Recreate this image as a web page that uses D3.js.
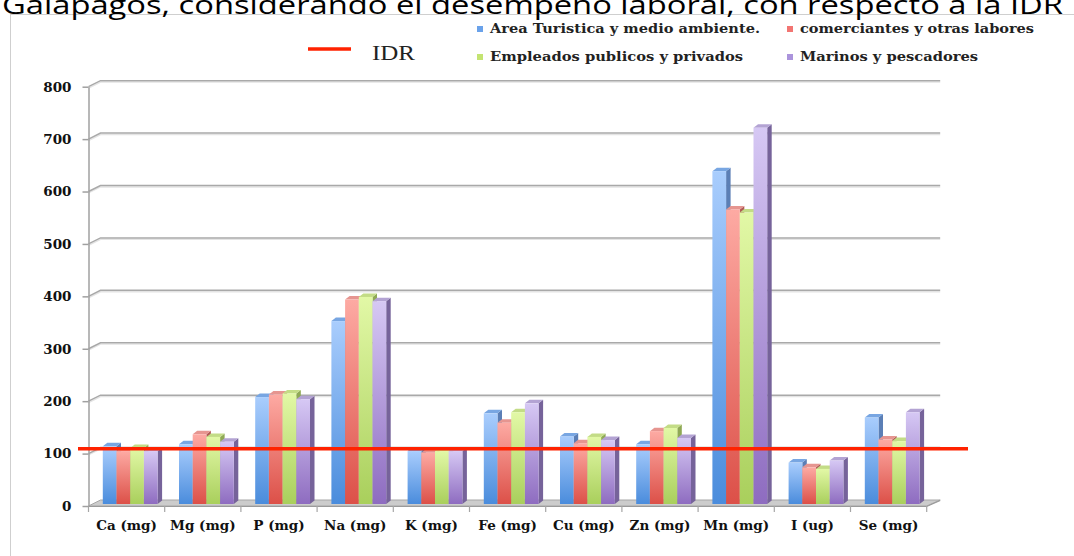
<!DOCTYPE html>
<html>
<head>
<meta charset="utf-8">
<script src="https://cdn.jsdelivr.net/npm/d3@7"></script>
<style>
  html, body { margin: 0; padding: 0; background: #ffffff; overflow: hidden; }
  svg { display: block; }
</style>
</head>
<body>
<svg id="chart" width="1074" height="556"></svg>
<script>
// Nutrient categories on the x axis
const categories = ["Ca (mg)", "Mg (mg)", "P (mg)", "Na (mg)", "K (mg)", "Fe (mg)", "Cu (mg)", "Zn (mg)", "Mn (mg)", "I (ug)", "Se (mg)"];

// Occupational groups (series)
const seriesNames = ["Area Turistica y medio ambiente.", "comerciantes y otras labores", "Empleados publicos y privados", "Marinos y pescadores"];

// Intake per group, one value per nutrient
const turismo      = [110, 114, 204, 349, 101, 173, 129, 114, 635, 79, 165];
const comerciantes = [101, 133, 209, 390,  98, 155, 116, 139, 562, 70, 123];
const empleados    = [107, 128, 211, 395, 101, 175, 128, 145, 556, 67, 120];
const marinos      = [101, 119, 200, 387, 101, 192, 122, 126, 718, 83, 175];

// Reference intake level (IDR)
const idr = 109;

// Y axis ticks
const yTicks = [0, 100, 200, 300, 400, 500, 600, 700, 800];

const titleText = "Galapagos, considerando el desempeño laboral, con respecto a la IDR";

const seriesValues = [turismo, comerciantes, empleados, marinos];

// Colours: [light top, dark bottom, side, top face, legend]
const palette = [
  { light: "#a9cdfd", dark: "#4a8cdc", side: "#5b7fb6", top: "#78a6e2", key: "#6aa2ea" },
  { light: "#fdaaa3", dark: "#dc5048", side: "#b05a55", top: "#e69590", key: "#f27572" },
  { light: "#e2f8a6", dark: "#a9cf5c", side: "#8fa955", top: "#c3dc86", key: "#c4e472" },
  { light: "#d6c8f4", dark: "#8e6cc0", side: "#76639a", top: "#b3a3d3", key: "#ab94dc" }
];

const svg = d3.select("#chart");
const defs = svg.append("defs");

palette.forEach((p, i) => {
  const g = defs.append("linearGradient")
    .attr("id", "grad" + i)
    .attr("x1", 0).attr("y1", 0).attr("x2", 0).attr("y2", 1);
  g.append("stop").attr("offset", "0%").attr("stop-color", p.light);
  g.append("stop").attr("offset", "100%").attr("stop-color", p.dark);
});

const blur = defs.append("filter").attr("id", "soft")
  .attr("x", "-5%").attr("y", "-200%").attr("width", "110%").attr("height", "500%");
blur.append("feGaussianBlur").attr("stdDeviation", 1.6);

// Layout
const depthX = 12, depthY = -6;        // wall/floor depth
const barDX = 4.5, barDY = -3.5;       // bar depth
const faceDY = -2;                     // bar face sits slightly behind the front plane

const x = d3.scaleBand().domain(categories).range([88.5, 926.7]);
const xs = d3.scaleBand().domain(d3.range(seriesNames.length)).range([14.3, 69.1]);
const y = d3.scaleLinear().domain([0, 800]).range([506, 86.7]);

const wallRight = x.range()[1] + depthX + 1.5;

// Outer frame
svg.append("rect")
  .attr("x", 10.5).attr("y", 14.5)
  .attr("width", 1200).attr("height", 700)
  .attr("fill", "none").attr("stroke", "#cfcfcf").attr("stroke-width", 1);

// Title (partly above the canvas)
svg.append("text")
  .attr("x", 2).attr("y", 14)
  .attr("font-family", "'Open Sans', 'Noto Sans', sans-serif")
  .attr("font-size", 25)
  .attr("fill", "#000")
  .attr("textLength", 1061)
  .attr("lengthAdjust", "spacingAndGlyphs")
  .text(titleText);

// Back-wall gridlines with diagonal connectors to the axis
const grid = svg.append("g");
yTicks.filter(t => t > 0).forEach(t => {
  const y0 = y(t);
  const pts = [[x.range()[0], y0], [x.range()[0] + depthX, y0 + depthY], [wallRight, y0 + depthY]];
  grid.append("path")
    .attr("d", d3.line()(pts.map(p => [p[0], p[1] + 1.4])))
    .attr("fill", "none").attr("stroke", "#e4e4e4").attr("stroke-width", 1.4);
  grid.append("path")
    .attr("d", d3.line()(pts))
    .attr("fill", "none").attr("stroke", "#a9a9a9").attr("stroke-width", 1.5);
});

// Floor
const fx0 = x.range()[0], fx1 = x.range()[1], fy = y(0);
svg.append("path")
  .attr("d", d3.line()([[fx0, fy], [fx1, fy], [fx1 + depthX + 1.5, fy + depthY], [fx0 + depthX, fy + depthY]]) + "Z")
  .attr("fill", "#cccccc").attr("stroke", "#a6a6a6").attr("stroke-width", 1);
svg.append("path")
  .attr("d", d3.line()([[fx0, fy + 0.5], [fx1, fy + 0.5], [fx1 + depthX + 1.5, fy + depthY + 0.5]]))
  .attr("fill", "none").attr("stroke", "#9a9a9a").attr("stroke-width", 1.2);

// Category boundary ticks under the floor
const bounds = categories.map(c => x(c)).concat([x.range()[1]]);
svg.append("g").selectAll("line").data(bounds).join("line")
  .attr("x1", d => d).attr("x2", d => d)
  .attr("y1", fy).attr("y2", fy + 6)
  .attr("stroke", "#a6a6a6").attr("stroke-width", 1.2);

// Bars: front face, top face and right side
const bars = [];
categories.forEach((c, ci) => {
  seriesValues.forEach((vals, si) => {
    bars.push({ c, si, v: vals[ci] });
  });
});

const barG = svg.append("g");
bars.forEach(b => {
  const bx = x(b.c) + xs(b.si);
  const bw = xs.bandwidth();
  const top = y(b.v) + faceDY;
  const bottom = y(0) + faceDY;
  const p = palette[b.si];
  const g = barG.append("g");
  // side
  g.append("path")
    .attr("d", d3.line()([[bx + bw, top], [bx + bw + barDX, top + barDY], [bx + bw + barDX, bottom + barDY], [bx + bw, bottom]]) + "Z")
    .attr("fill", p.side);
  // top
  g.append("path")
    .attr("d", d3.line()([[bx, top], [bx + barDX, top + barDY], [bx + bw + barDX, top + barDY], [bx + bw, top]]) + "Z")
    .attr("fill", p.top);
  // front
  g.append("rect")
    .attr("x", bx).attr("y", top)
    .attr("width", bw).attr("height", bottom - top)
    .attr("fill", "url(#grad" + b.si + ")");
});

// Y axis
const yAxis = d3.axisLeft(y).tickValues(yTicks).tickSize(6).tickSizeOuter(0).tickPadding(11);
const yg = svg.append("g").attr("transform", `translate(${x.range()[0]},0)`).call(yAxis);
yg.select(".domain").attr("stroke", "#a0a0a0").attr("stroke-width", 1.5);
yg.selectAll(".tick line").attr("stroke", "#a0a0a0").attr("stroke-width", 1.5);
yg.selectAll(".tick text")
  .attr("font-family", "'DejaVu Serif', serif")
  .attr("font-weight", "bold")
  .attr("font-size", 13.5)
  .attr("fill", "#111");

// X axis labels
const xAxis = d3.axisBottom(x).tickSize(0).tickPadding(14);
const xg = svg.append("g").attr("transform", `translate(0,${y(0)})`).call(xAxis);
xg.select(".domain").remove();
xg.selectAll(".tick text")
  .attr("font-family", "'DejaVu Serif', serif")
  .attr("font-weight", "bold")
  .attr("font-size", 13.5)
  .attr("fill", "#111");

// IDR reference line
const lineX0 = 78, lineX1 = 968;
svg.append("line")
  .attr("x1", lineX0).attr("x2", lineX1)
  .attr("y1", y(idr) + 2).attr("y2", y(idr) + 2)
  .attr("stroke", "#b07070").attr("stroke-opacity", 0.45).attr("stroke-width", 4)
  .attr("filter", "url(#soft)");
svg.append("line")
  .attr("x1", lineX0).attr("x2", lineX1)
  .attr("y1", y(idr)).attr("y2", y(idr))
  .attr("stroke", "#ff2200").attr("stroke-width", 3.5);

// Legend: IDR line key
const legend = svg.append("g");
legend.append("line")
  .attr("x1", 308).attr("x2", 351).attr("y1", 49).attr("y2", 49)
  .attr("stroke", "#ff2200").attr("stroke-width", 3.5);
legend.append("text")
  .attr("x", 372).attr("y", 60)
  .attr("font-family", "'Liberation Serif', serif")
  .attr("font-size", 22)
  .attr("fill", "#222")
  .attr("textLength", 43).attr("lengthAdjust", "spacingAndGlyphs")
  .text("IDR");

// Legend: series keys in two columns
const keyCols = [477, 787];
const keyRows = [33, 61];
const keyWidths = [270, 234, 253, 178];
seriesNames.forEach((name, i) => {
  const col = keyCols[i % 2];
  const row = keyRows[Math.floor(i / 2)];
  legend.append("rect")
    .attr("x", col).attr("y", row - 7)
    .attr("width", 6).attr("height", 6)
    .attr("fill", palette[i].key);
  legend.append("text")
    .attr("x", col + 13).attr("y", row)
    .attr("font-family", "'DejaVu Serif', serif")
    .attr("font-weight", "bold")
    .attr("font-size", 12)
    .attr("fill", "#222")
    .attr("textLength", keyWidths[i]).attr("lengthAdjust", "spacingAndGlyphs")
    .text(name);
});
</script>
</body>
</html>
